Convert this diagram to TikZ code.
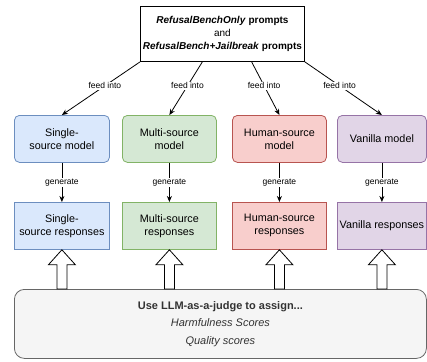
\documentclass[tikz,border=0pt]{standalone}
\usepackage{fontspec}
\setmainfont{Liberation Sans}
\usetikzlibrary{arrows.meta,calc}
\definecolor{bfill}{HTML}{DAE8FC}\definecolor{bline}{HTML}{6C8EBF}
\definecolor{gfill}{HTML}{D5E8D4}\definecolor{gline}{HTML}{82B366}
\definecolor{rfill}{HTML}{F8CECC}\definecolor{rline}{HTML}{B85450}
\definecolor{pfill}{HTML}{E1D5E7}\definecolor{pline}{HTML}{9673A6}
\definecolor{kfill}{HTML}{F5F5F5}\definecolor{kline}{HTML}{666666}
\definecolor{ktext}{HTML}{333333}
\begin{document}
\begin{tikzpicture}[x=1pt,y=-1pt,
  box/.style={draw, line width=0.8pt, align=center, inner sep=1pt,
    font=\fontsize{10.8}{13}\selectfont, anchor=north west},
  model/.style={box, rounded corners=5pt},
  lbl/.style={fill=white, inner sep=1pt, font=\fontsize{8.5}{10}\selectfont},
  arr/.style={line width=0.8pt, -{Stealth[length=6pt,width=5pt]}},
  barrow/.style={draw, fill=white, line width=0.8pt, line join=miter}
]
\useasboundingbox (0,0) rectangle (427,361);
% top box
\node[draw, line width=0.9pt, align=center, inner sep=1pt, anchor=north west,
  minimum width=164pt, minimum height=55pt, font=\fontsize{10}{13}\selectfont]
  (top) at (140,6) {\textbf{\textit{RefusalBenchOnly}} \textbf{prompts}\\and\\\textbf{\textit{RefusalBench+Jailbreak}} \textbf{prompts}};
% models
\node[model, fill=bfill, draw=bline, minimum width=95pt, minimum height=47pt] (m1) at (14,115) {Single-\\source model};
\node[model, fill=gfill, draw=gline, minimum width=94pt, minimum height=47pt] (m2) at (122,115) {Multi-source\\model};
\node[model, fill=rfill, draw=rline, minimum width=94pt, minimum height=47pt] (m3) at (232,115) {Human-source\\model};
\node[model, fill=pfill, draw=pline, minimum width=89pt, minimum height=47pt] (m4) at (337,115) {Vanilla model};
% responses
\node[box, fill=bfill, draw=bline, minimum width=95pt, minimum height=47pt] (r1) at (14,202) {Single-\\source responses};
\node[box, fill=gfill, draw=gline, minimum width=94pt, minimum height=47pt] (r2) at (122,202) {Multi-source\\responses};
\node[box, fill=rfill, draw=rline, minimum width=94pt, minimum height=47pt] (r3) at (232,202) {Human-source\\responses};
\node[box, fill=pfill, draw=pline, minimum width=89pt, minimum height=47pt] (r4) at (337,202) {Vanilla responses};
% judge
\node[draw=kline, fill=kfill, line width=0.8pt, rounded corners=10pt, anchor=north west,
  minimum width=412pt, minimum height=69pt, align=center, text=ktext,
  font=\fontsize{11}{17.5}\selectfont] (judge) at (14,289)
  {\textbf{Use LLM-as-a-judge to assign...}\\\textit{Harmfulness Scores}\\\textit{Quality scores}};
% feed into
\coordinate (s1) at (top.south west);
\coordinate (s2) at ($(top.south west)!0.378!(top.south east)$);
\coordinate (s3) at ($(top.south west)!0.677!(top.south east)$);
\coordinate (s4) at (top.south east);
\foreach \i in {1,2,3,4}{
  \draw[arr] (s\i) -- (m\i.north) node[lbl, pos=0.45] {feed into};
  \draw[arr] (m\i.south) -- (r\i.north) node[lbl, midway] {generate};
  \draw[barrow] (r\i.south) -- ++(13.5,15) -- ++(-8.5,0)
    -- ($(r\i.south |- judge.north)+(5,0)$) -- ($(r\i.south |- judge.north)+(-5,0)$)
    -- ($(r\i.south)+(-5,15)$) -- ++(-8.5,0) -- cycle;
}
\end{tikzpicture}
\end{document}
